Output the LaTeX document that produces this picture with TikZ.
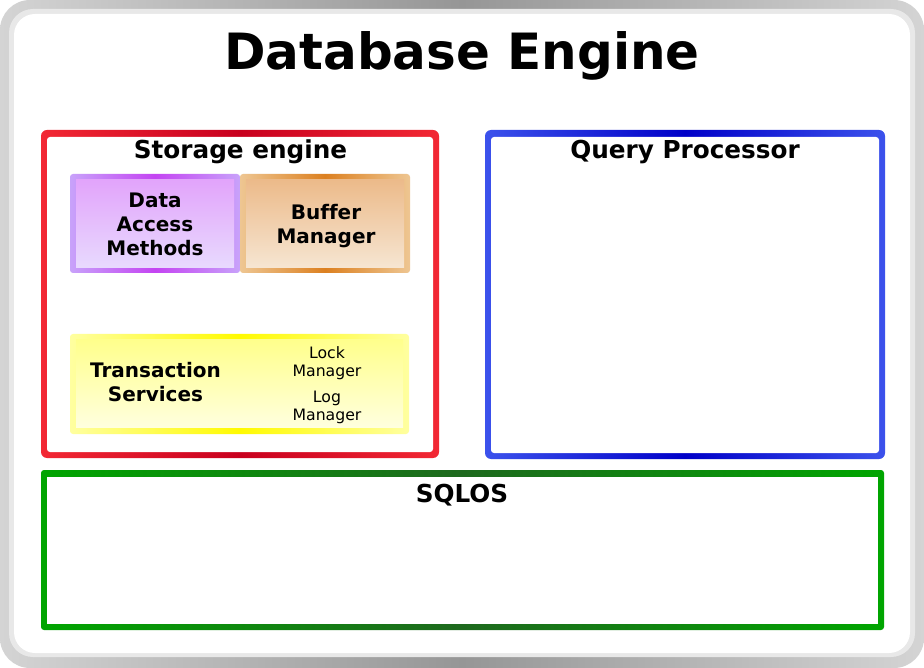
\documentclass[tikz,border=0pt]{standalone}
\usepackage{fontspec}
\setmainfont[Ligatures=NoCommon]{DejaVu Sans}
\definecolor{frS}{RGB}{212,212,212}
\definecolor{frM}{RGB}{150,150,150}
\definecolor{frR}{RGB}{232,232,232}
\definecolor{rdS}{RGB}{242,40,52}
\definecolor{rdM}{RGB}{200,0,30}
\definecolor{blS}{RGB}{60,82,236}
\definecolor{blM}{RGB}{0,0,200}
\definecolor{grS}{RGB}{0,165,0}
\definecolor{grM}{RGB}{30,105,30}
\definecolor{puS}{RGB}{200,162,250}
\definecolor{puM}{RGB}{196,68,242}
\definecolor{puT}{RGB}{226,164,251}
\definecolor{puB}{RGB}{232,218,254}
\definecolor{orS}{RGB}{238,198,146}
\definecolor{orM}{RGB}{220,128,32}
\definecolor{orT}{RGB}{236,186,138}
\definecolor{orB}{RGB}{246,230,210}
\definecolor{ylS}{RGB}{255,255,160}
\definecolor{ylM}{RGB}{255,250,0}
\definecolor{ylT}{RGB}{255,255,140}
\definecolor{ylB}{RGB}{255,255,222}
\tikzset{
  ttl/.style={inner sep=0pt, font=\bfseries\fontsize{50}{60}\selectfont},
  hdr/.style={inner sep=0pt, font=\bfseries\fontsize{24.7}{29}\selectfont},
  lbl/.style={inner sep=0pt, align=center, font=\bfseries\fontsize{20}{24}\selectfont},
  sml/.style={inner sep=0pt, align=center, font=\fontsize{15.7}{17.7}\selectfont},
}
\begin{document}
\begin{tikzpicture}[x=1pt,y=-1pt]
\useasboundingbox (0,0) rectangle (924,668);
% outer frame
\shade[rounded corners=30pt, left color=frS, right color=frS, middle color=frM] (0,0) rectangle (924,668);
\fill[frR, rounded corners=24pt] (9,9) rectangle (915,657);
\fill[white, rounded corners=21pt] (14,14) rectangle (910,653);
% storage engine (red)
\shade[rounded corners=6pt, left color=rdS, right color=rdS, middle color=rdM] (41,130) rectangle (439,458);
\fill[white, rounded corners=3pt] (47,137) rectangle (433,452);
% query processor (blue)
\shade[rounded corners=6pt, left color=blS, right color=blS, middle color=blM] (485,130) rectangle (885,459);
\fill[white, rounded corners=3pt] (491,137) rectangle (879,453);
% SQLOS (green)
\shade[rounded corners=3pt, left color=grS, right color=grS, middle color=grM] (41,470) rectangle (884,630);
\fill[white] (47,477) rectangle (878,624);
% data access methods (purple)
\shade[rounded corners=3pt, left color=puS, right color=puS, middle color=puM] (70,174) rectangle (240,273);
\shade[top color=puT, bottom color=puB] (76,180) rectangle (234,268);
% buffer manager (orange)
\shade[rounded corners=3pt, left color=orS, right color=orS, middle color=orM] (240,174) rectangle (410,273);
\shade[top color=orT, bottom color=orB] (246,180) rectangle (404,268);
% transaction services (yellow)
\shade[rounded corners=3pt, left color=ylS, right color=ylS, middle color=ylM] (70,334) rectangle (409,434);
\shade[top color=ylT, bottom color=ylB] (76,340) rectangle (403,427);
% texts
\node[ttl, anchor=base] (title) at (462,70) {Database Engine};
\node[hdr, anchor=base] (storage) at (240.5,158.5) {Storage engine};
\node[hdr, anchor=base] (query) at (685,159) {Query Processor};
\node[hdr, anchor=base] (sqlos) at (462,502.5) {SQLOS};
\node[lbl] (dam) at (155,224.5) {Data\\Access\\Methods};
\node[lbl] (buf) at (326,226.3) {Buffer\\Manager};
\node[lbl] (trans) at (155.5,382) {Transaction\\Services};
\node[sml] (lock) at (327,363.5) {Lock\\Manager};
\node[sml] (log) at (327,407.5) {Log\\Manager};
\end{tikzpicture}
\end{document}
